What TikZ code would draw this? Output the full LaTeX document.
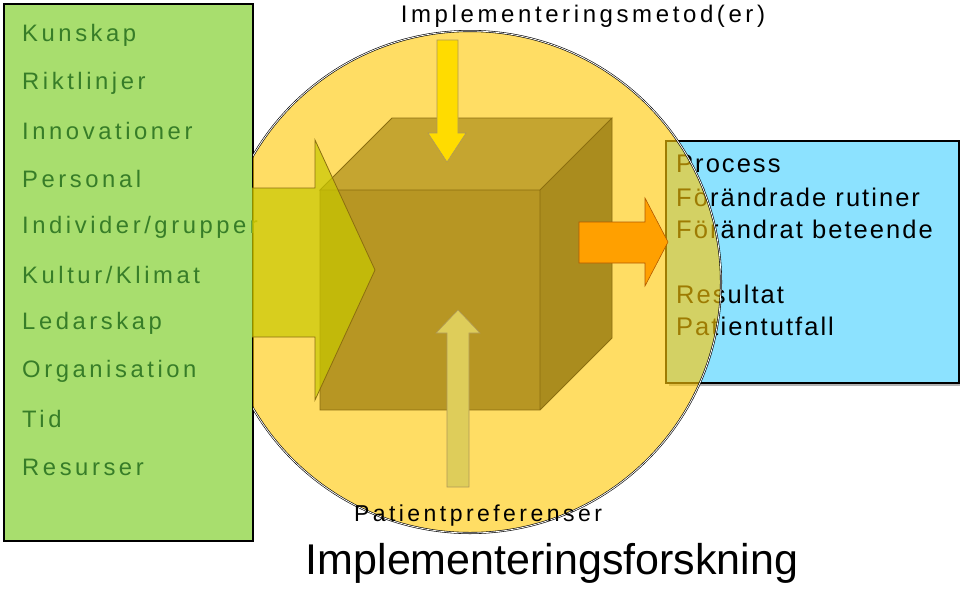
\documentclass[tikz,border=0pt]{standalone}
\usepackage{fontspec}
\setmainfont{Liberation Sans}
\newfontfamily\spaced[LetterSpace=15]{Liberation Sans}
\newfontfamily\spacedb[LetterSpace=8]{Liberation Sans}
\definecolor{gbox}{RGB}{168,222,110}
\definecolor{gtext}{RGB}{55,125,40}
\definecolor{bbox}{RGB}{140,226,255}
\definecolor{circ}{RGB}{255,200,5}
\definecolor{ctop}{RGB}{197,165,48}
\definecolor{cfront}{RGB}{183,150,35}
\definecolor{cright}{RGB}{170,140,30}
\definecolor{cedge}{RGB}{140,110,15}
\definecolor{chev}{RGB}{200,200,0}
\definecolor{yarrow}{RGB}{255,220,0}
\definecolor{parrow}{RGB}{222,205,90}
\definecolor{oarrow}{RGB}{255,160,0}
\begin{document}
\begin{tikzpicture}[x=1pt,y=-1pt,
  gl/.style={anchor=west,text=gtext,inner sep=0,font=\fontsize{23.8}{23.8}\selectfont\spaced},
  bl/.style={anchor=west,inner sep=0,font=\fontsize{25.5}{25.5}\selectfont\spacedb},
  cubeface/.style={draw=cedge,line width=0.8pt}]
\useasboundingbox (0,0) rectangle (960,589);
% blue box
\fill[gray!60] (669,144) rectangle (962,386);
\node[draw=black,line width=1.5pt,fill=bbox,minimum width=293pt,minimum height=242pt,inner sep=0,anchor=north west] (bbx) at (665,140) {};
\node[bl] (b1) at (676,164) {Process};
\node[bl] (b2) at (676,197) {Förändrade rutiner};
\node[bl] (b3) at (676,229) {Förändrat beteende};
\node[bl] (b4) at (676,294) {Resultat};
\node[bl] (b5) at (676,326) {Patientutfall};
% green box
\node[draw=black,line width=1.5pt,fill=gbox,minimum width=249pt,minimum height=537pt,inner sep=0,anchor=north west] (gbx) at (3,3) {};
\foreach \t [count=\i] in {Kunskap,Riktlinjer,Innovationer,Personal,Individer/grupper,Kultur/Klimat,Ledarskap,Organisation,Tid,Resurser}
  \node[gl] (g\i) at (22,{35+48*(\i-1)}) {\t};
% circle (hidden behind green box)
\begin{scope}
\clip (253,0) rectangle (960,589);
\node[circle,minimum size=502pt,inner sep=0,fill=circ,fill opacity=0.62,draw=black,double=white,double distance=0.8pt,line width=0.6pt] (circ) at (470,282) {};
\end{scope}
% cube
\fill[fill=ctop] (320,190) -- (392,118) -- (612,118) -- (540,190) -- cycle;
\fill[fill=cright] (540,190) -- (612,118) -- (612,338) -- (540,410) -- cycle;
\fill[fill=cfront] (320,190) rectangle (540,410);
\draw[cubeface] (320,190) -- (392,118) -- (612,118) -- (540,190) -- cycle (612,118) -- (612,338) -- (540,410) (320,190) rectangle (540,410);
% chevron
\filldraw[fill=chev,fill opacity=0.7,draw=cedge,line width=0.8pt] (252,188) -- (315,188) -- (315,140) -- (375,270) -- (315,400) -- (315,337) -- (252,337);
% top arrow
\filldraw[fill=yarrow,draw=cedge!70,line width=0.6pt] (437,40) -- (458,40) -- (458,133) -- (466,133) -- (447,162) -- (428,133) -- (437,133) -- cycle;
% bottom arrow
\filldraw[fill=parrow,draw=cedge!70,line width=0.6pt] (447,487) -- (469,487) -- (469,333) -- (480,333) -- (458,310) -- (436,333) -- (447,333) -- cycle;
% orange arrow
\filldraw[fill=oarrow,draw=orange!70!black,line width=0.6pt] (579,222) -- (645,222) -- (645,198) -- (668,242) -- (645,286) -- (645,263) -- (579,263) -- cycle;
% titles
\node[font=\fontsize{24}{24}\selectfont\spaced] (t1) at (583,16) {Implementeringsmetod(er)};
\node[font=\fontsize{23}{23}\selectfont\spaced] (t2) at (478,516) {Patientpreferenser};
\node[font=\fontsize{43}{43}\selectfont] (t3) at (552,563) {Implementeringsforskning};
\end{tikzpicture}
\end{document}
